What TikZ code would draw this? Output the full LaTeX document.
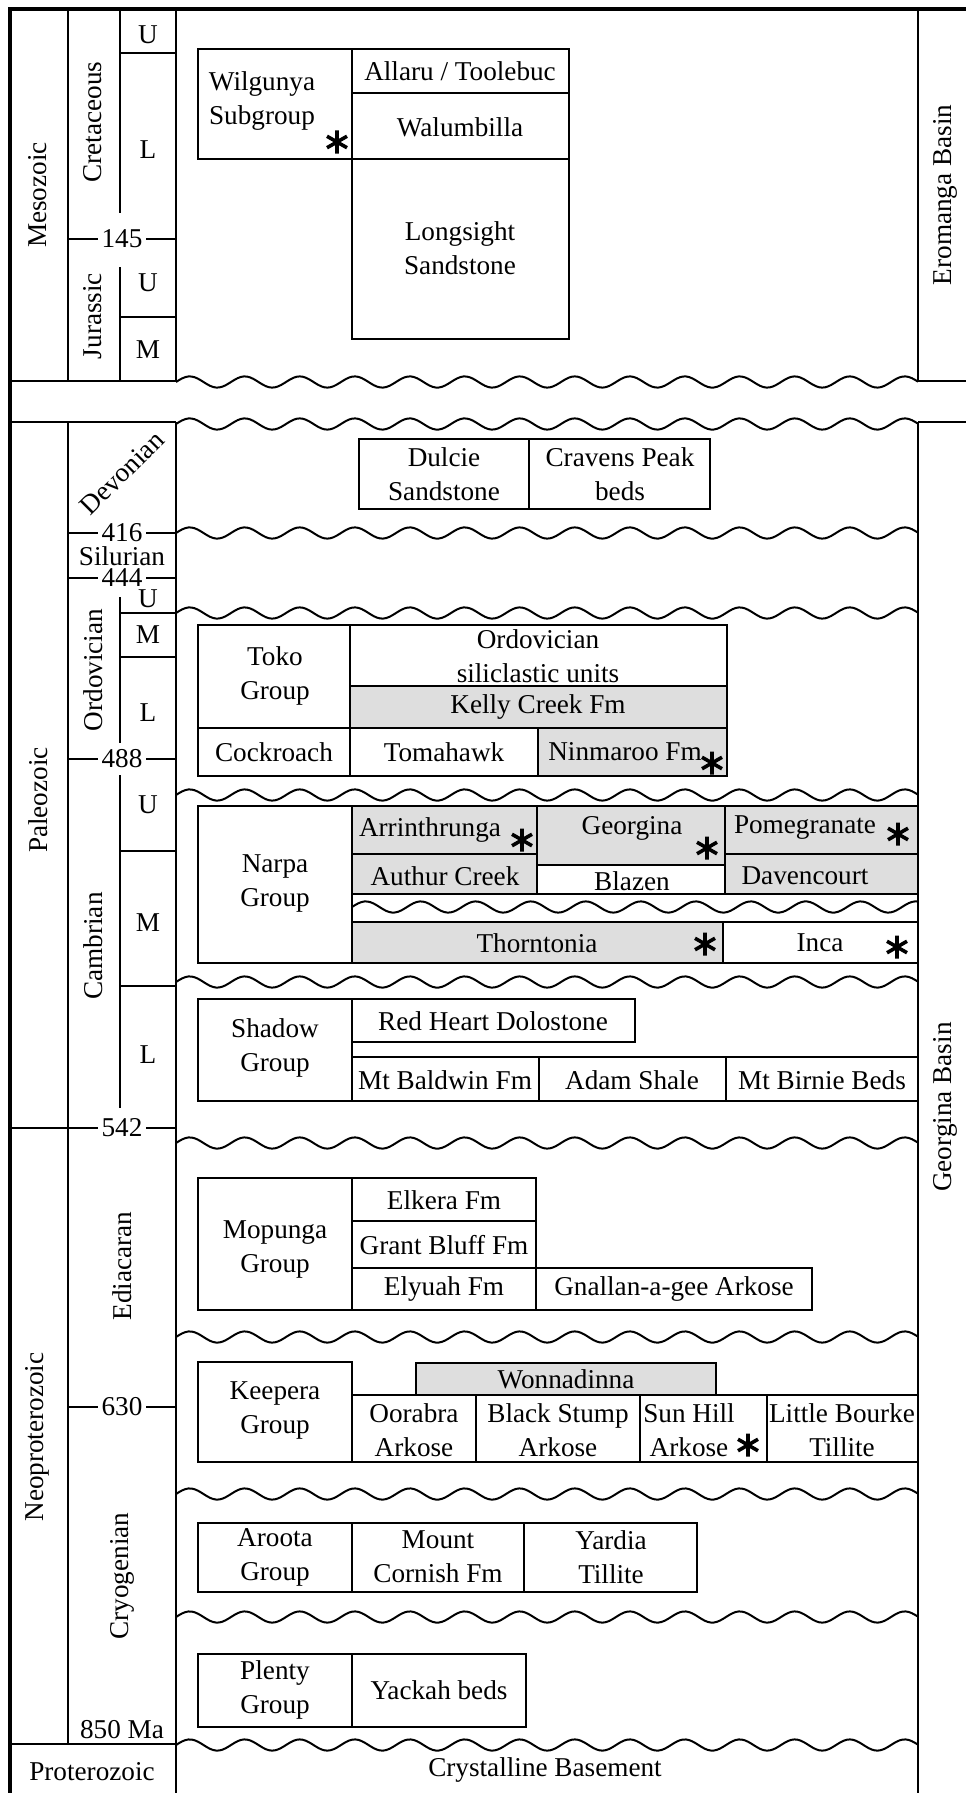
\documentclass[tikz,border=0pt]{standalone}
\usepackage{fontspec}
\setmainfont{Liberation Serif}
\tikzset{
  asterisk/.pic={
    \draw[line width=1.8pt,line cap=butt] (0,-11.5)--(0,11.5) (-10,-5.75)--(10,5.75) (-10,5.75)--(10,-5.75);
  }
}
\begin{document}
\begin{tikzpicture}[x=0.5pt,y=-0.5pt,line width=1pt,
  cell/.style={draw,line width=1pt},
  grey/.style={cell,fill=black!13},
  lbl/.style={font=\fontsize{13.6}{17}\selectfont,align=center,inner sep=0pt},
  vlbl/.style={lbl,rotate=90},
  age/.style={lbl,fill=white,inner xsep=2pt}]
\useasboundingbox (0,0) rectangle (965,1793);

%frame and time columns
\draw[line width=2pt](10,1800)--(10,9)--(975,9);
\draw(68,9)--(68,381);
\draw(176,9)--(176,381);
\draw(918,9)--(918,381);
\draw(120,9)--(120,213);
\draw(120,267)--(120,381);
\draw(120,53)--(176,53);
\draw(120,317)--(176,317);
\draw(68,239)--(176,239);
\draw(10,381)--(176,381);
\draw(918,381)--(975,381);
\draw(10,422)--(176,422);
\draw(918,422)--(975,422);
\draw(68,422)--(68,1744);
\draw(176,422)--(176,1800);
\draw(918,422)--(918,1800);
\draw(68,533)--(176,533);
\draw(68,578)--(176,578);
\draw(120,597)--(120,743);
\draw(120,613)--(176,613);
\draw(120,657)--(176,657);
\draw(68,759)--(176,759);
\draw(120,775)--(120,1108);
\draw(120,851)--(176,851);
\draw(120,986)--(176,986);
\draw(10,1128)--(176,1128);
\draw(68,1407)--(176,1407);
\draw(10,1744)--(176,1744);

%unconformities
\foreach \wy in {382,424,533,613,795,982,1143,1337,1494,1617,1745}{
\draw plot[domain=176:918,samples=241,smooth](\x,{\wy-5.6*sin((\x-176)/55*360)});
}
\draw plot[domain=352:918,samples=185,smooth](\x,{907-5.6*sin((\x-352)/55*360)});

%eras, periods, epochs
\node[vlbl](meso)at(38,195){Mesozoic};
\node[vlbl](cret)at(93,122){Cretaceous};
\node[vlbl](jura)at(93,316){Jurassic};
\node[lbl](cretU)at(148,35){U};
\node[lbl](cretL)at(148,150){L};
\node[lbl](jurU)at(148,283){U};
\node[lbl](jurM)at(148,350){M};
\node[age](a145)at(122,239){145};
\node[vlbl](paleo)at(38,800){Paleozoic};
\node[lbl,rotate=45](devo)at(122,473){Devonian};
\node[age](a416)at(122,533){416};
\node[age](a444)at(122,578){444};
\node[lbl](silu)at(122,556){Silurian};
\node[vlbl](ordo)at(93,670){Ordovician};
\node[lbl](ordU)at(148,599){U};
\node[lbl](ordM)at(148,635){M};
\node[lbl](ordL)at(148,713){L};
\node[age](a488)at(122,759){488};
\node[vlbl](camb)at(93,946){Cambrian};
\node[lbl](camU)at(148,805){U};
\node[lbl](camM)at(148,923){M};
\node[lbl](camL)at(148,1055){L};
\node[age](a542)at(122,1128){542};
\node[vlbl](neo)at(37,1437){Neoproterozoic};
\node[vlbl](edia)at(122,1266){Ediacaran};
\node[age](a630)at(122,1407){630};
\node[vlbl](cryo)at(122,1576){Cryogenian};
\node[lbl](a850)at(122,1730){850 Ma};
\node[lbl](prot)at(92,1772){Proterozoic};
\node[vlbl](erom)at(945,195){Eromanga Basin};
\node[vlbl](geor)at(945,1107){Georgina Basin};

%Eromanga units
\draw[cell](198,49)rectangle(352,159);
\draw[cell](352,49)rectangle(569,93);
\draw[cell](352,93)rectangle(569,159);
\draw[cell](352,159)rectangle(569,339);
\node[lbl](wilg)at(262,101){Wilgunya\\Subgroup};
\node[lbl](allaru)at(460,71){Allaru / Toolebuc};
\node[lbl](walum)at(460,127){Walumbilla};
\node[lbl](longs)at(460,248){Longsight\\Sandstone};
\pic at(337,142){asterisk};

%Devonian
\draw[cell](359,439)rectangle(529,509);
\draw[cell](529,439)rectangle(710,509);
\node[lbl](dulcie)at(444,474){Dulcie\\Sandstone};
\node[lbl](cravens)at(620,474){Cravens Peak\\beds};

%Ordovician
\draw[cell](198,625)rectangle(350,728);
\draw[cell](350,625)rectangle(727,686);
\draw[grey](350,686)rectangle(727,728);
\draw[cell](198,728)rectangle(350,776);
\draw[cell](350,728)rectangle(538,776);
\draw[grey](538,728)rectangle(727,776);
\node[lbl](toko)at(275,676){Toko\\Group};
\node[lbl](ordsil)at(538,656){Ordovician\\siliclastic units};
\node[lbl](kelly)at(538,707){Kelly Creek Fm};
\node[lbl](cockr)at(274,752){Cockroach};
\node[lbl](tomah)at(444,752){Tomahawk};
\node[lbl](ninma)at(625,752){Ninmaroo Fm};
\pic at(712,763){asterisk};

%Narpa Group
\draw[cell](198,806)rectangle(352,963);
\draw[grey](352,806)rectangle(537,854);
\draw[grey](352,854)rectangle(537,894);
\draw[grey](537,806)rectangle(725,865);
\draw[cell](537,865)rectangle(725,894);
\draw[grey](725,806)rectangle(918,854);
\draw[grey](725,854)rectangle(918,894);
\draw[grey](352,922)rectangle(723,963);
\draw[cell](723,922)rectangle(918,963);
\node[lbl](narpa)at(275,883){Narpa\\Group};
\node[lbl](arrin)at(430,830){Arrinthrunga};
\node[lbl](authur)at(445,876){Authur Creek};
\node[lbl](georg)at(632,828){Georgina};
\node[lbl](blazen)at(632,881){Blazen};
\node[lbl](pomeg)at(805,828){Pomegranate};
\node[lbl](daven)at(805,876){Davencourt};
\node[lbl](thorn)at(537,943){Thorntonia};
\node[lbl](inca)at(820,943){Inca};
\pic at(522,840){asterisk};
\pic at(707,848){asterisk};
\pic at(898,834){asterisk};
\pic at(705,944){asterisk};
\pic at(897,947){asterisk};

%Shadow Group
\draw[cell](198,999)rectangle(352,1101);
\draw[cell](352,999)rectangle(635,1042);
\draw[cell](352,1057)rectangle(539,1101);
\draw[cell](539,1057)rectangle(726,1101);
\draw[cell](726,1057)rectangle(918,1101);
\node[lbl](shadow)at(275,1048){Shadow\\Group};
\node[lbl](redh)at(493,1021){Red Heart Dolostone};
\node[lbl](baldw)at(445,1080){Mt Baldwin Fm};
\node[lbl](adam)at(632,1080){Adam Shale};
\node[lbl](birnie)at(822,1080){Mt Birnie Beds};

%Mopunga Group
\draw[cell](198,1178)rectangle(352,1310);
\draw[cell](352,1178)rectangle(536,1221);
\draw[cell](352,1221)rectangle(536,1268);
\draw[cell](352,1268)rectangle(536,1310);
\draw[cell](536,1268)rectangle(812,1310);
\node[lbl](mopun)at(275,1249){Mopunga\\Group};
\node[lbl](elkera)at(444,1200){Elkera Fm};
\node[lbl](grant)at(444,1245){Grant Bluff Fm};
\node[lbl](elyuah)at(444,1289){Elyuah Fm};
\node[lbl](gnall)at(674,1289){Gnallan-a-gee Arkose};

%Keepera Group
\draw[cell](198,1362)rectangle(352,1462);
\draw[grey](416,1363)rectangle(716,1395);
\draw[cell](352,1395)rectangle(476,1462);
\draw[cell](476,1395)rectangle(640,1462);
\draw[cell](640,1395)rectangle(767,1462);
\draw[cell](767,1395)rectangle(918,1462);
\node[lbl](keep)at(275,1410){Keepera\\Group};
\node[lbl](wonna)at(566,1379){Wonnadinna};
\node[lbl](oorab)at(414,1430){Oorabra\\Arkose};
\node[lbl](blacks)at(558,1430){Black Stump\\Arkose};
\node[lbl](sunh)at(689,1430){Sun Hill\\Arkose};
\node[lbl](littleb)at(842,1430){Little Bourke\\Tillite};
\pic at(748,1445){asterisk};

%Cryogenian
\draw[cell](198,1523)rectangle(352,1592);
\draw[cell](352,1523)rectangle(524,1592);
\draw[cell](524,1523)rectangle(697,1592);
\node[lbl](aroota)at(275,1557){Aroota\\Group};
\node[lbl](mcorn)at(438,1557){Mount\\Cornish Fm};
\node[lbl](yardia)at(611,1557){Yardia\\Tillite};
\draw[cell](198,1654)rectangle(352,1727);
\draw[cell](352,1654)rectangle(526,1727);
\node[lbl](plenty)at(275,1690){Plenty\\Group};
\node[lbl](yackah)at(439,1690){Yackah beds};

%basement
\node[lbl](basem)at(545,1770){Crystalline Basement};
\end{tikzpicture}
\end{document}
